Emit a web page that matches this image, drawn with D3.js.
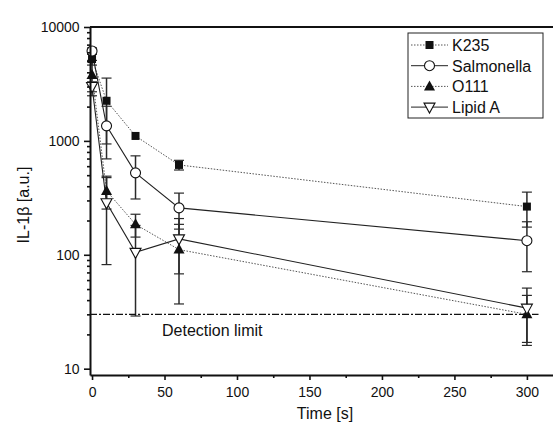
<!DOCTYPE html>
<html>
<head>
<meta charset="utf-8">
<script src="https://cdn.jsdelivr.net/npm/d3@7"></script>
<style>
  html, body { margin: 0; padding: 0; background: #fff; }
  svg { display: block; font-family: "Liberation Sans", Arial, sans-serif; }
</style>
</head>
<body>
<svg id="chart" width="553" height="425"></svg>
<script>
// Sampling times (s)
const times = [0, 10, 30, 60, 300];

// IL-1β signal per stimulus (a.u.) and standard deviations
const k235 = [5230, 2250, 1105, 615, 265];
const k235Err = [600, 1310, 0, 60, 90];

const salmonella = [6150, 1355, 524, 258, 133];
const salmonellaErr = [400, 660, 215, 90, 62];

const o111 = [3790, 364, 185, 111, 30];
const o111Err = [1300, 112, 42, 74, 14];

const lipidA = [3000, 286, 105, 138, 34];
const lipidAErr = [300, 204, 76, 70, 17];

const seriesNames = ["K235", "Salmonella", "O111", "Lipid A"];

const detectionLimit = 30;
const xTicks = [0, 50, 100, 150, 200, 250, 300];
const yTicks = [10, 100, 1000, 10000];

const series = [
  { name: seriesNames[0], values: k235, err: k235Err, symbol: "square", dotted: true },
  { name: seriesNames[1], values: salmonella, err: salmonellaErr, symbol: "circle", dotted: false },
  { name: seriesNames[2], values: o111, err: o111Err, symbol: "triUp", dotted: true },
  { name: seriesNames[3], values: lipidA, err: lipidAErr, symbol: "triDown", dotted: false }
];

const svg = d3.select("#chart");
const plotLeft = 90, plotRight = 553, plotTop = 27, plotBottom = 375;

const x = d3.scaleLinear().domain([-1.4, 318]).range([plotLeft, plotRight]);
const y = d3.scaleLog().domain([8.8, 10000]).range([plotBottom, plotTop]);

// Error bars
const errG = svg.append("g");
series.forEach(s => {
  s.values.forEach((v, i) => {
    const e = s.err[i];
    if (!e) return;
    const lo = Math.max(v - e, 9);
    const cx = x(times[i]);
    errG.append("line").attr("x1", cx).attr("x2", cx)
      .attr("y1", y(v + e)).attr("y2", y(lo))
      .attr("stroke", "#2a2a2a").attr("stroke-width", 1.5);
    [v + e, lo].forEach(c => {
      errG.append("line").attr("x1", cx - 5).attr("x2", cx + 5)
        .attr("y1", y(c)).attr("y2", y(c))
        .attr("stroke", "#2a2a2a").attr("stroke-width", 1.2);
    });
  });
});

// Detection limit
svg.append("line")
  .attr("x1", x(-1.4)).attr("x2", x(308))
  .attr("y1", y(detectionLimit)).attr("y2", y(detectionLimit))
  .attr("stroke", "#111").attr("stroke-width", 1.4)
  .attr("stroke-dasharray", "7,2,2,2");
svg.append("text").attr("x", 162).attr("y", y(detectionLimit) + 22)
  .attr("font-size", 16).attr("fill", "#111").text("Detection limit");

// Connecting lines
const line = d3.line().x((d, i) => x(times[i])).y(d => y(d));
series.forEach(s => {
  svg.append("path").datum(s.values)
    .attr("d", line)
    .attr("fill", "none")
    .attr("stroke", s.dotted ? "#555" : "#222")
    .attr("stroke-width", s.dotted ? 1 : 1.1)
    .attr("stroke-dasharray", s.dotted ? "1.5,1.5" : null);
});

// Markers
function drawSymbol(g, type, cx, cy) {
  if (type === "square") {
    g.append("rect").attr("x", cx - 4).attr("y", cy - 4).attr("width", 8).attr("height", 8).attr("fill", "#111");
  } else if (type === "circle") {
    g.append("circle").attr("cx", cx).attr("cy", cy).attr("r", 5)
      .attr("fill", "#fff").attr("stroke", "#111").attr("stroke-width", 1.1);
  } else if (type === "triUp") {
    g.append("path").attr("d", `M${cx},${cy - 6}L${cx + 5.5},${cy + 4}L${cx - 5.5},${cy + 4}Z`).attr("fill", "#111");
  } else {
    g.append("path").attr("d", `M${cx - 5.5},${cy - 4}L${cx + 5.5},${cy - 4}L${cx},${cy + 6}Z`)
      .attr("fill", "#fff").attr("stroke", "#111").attr("stroke-width", 1.1);
  }
}
const markG = svg.append("g");
series.forEach(s => {
  s.values.forEach((v, i) => drawSymbol(markG, s.symbol, x(times[i]), y(v)));
});

// Axes
const xAxis = svg.append("g").attr("transform", `translate(0,${plotBottom})`)
  .call(d3.axisBottom(x).tickValues(xTicks).tickFormat(d3.format("d")).tickSize(5).tickSizeOuter(0));
const xMinor = svg.append("g").attr("transform", `translate(0,${plotBottom})`)
  .call(d3.axisBottom(x).tickValues([25, 75, 125, 175, 225, 275]).tickFormat("").tickSize(3).tickSizeOuter(0));
xMinor.select(".domain").remove();

const minorVals = [];
[10, 100, 1000].forEach(b => { for (let k = 2; k <= 9; k++) minorVals.push(b * k); });
const yAxis = svg.append("g").attr("transform", `translate(${plotLeft},0)`)
  .call(d3.axisLeft(y).tickValues(yTicks).tickFormat(d3.format("d")).tickSize(6).tickSizeOuter(0));
const yMinor = svg.append("g").attr("transform", `translate(${plotLeft},0)`)
  .call(d3.axisLeft(y).tickValues(minorVals).tickFormat("").tickSize(3).tickSizeOuter(0));
yMinor.select(".domain").remove();

[xAxis, yAxis, xMinor, yMinor].forEach(g => {
  g.selectAll("line").attr("stroke", "#111").attr("stroke-width", 1.6);
  g.selectAll(".domain").attr("stroke", "#111").attr("stroke-width", 2);
  g.selectAll("text").attr("font-size", 14).attr("fill", "#111")
    .attr("font-family", "Liberation Sans, Arial, sans-serif");
});
xAxis.selectAll("text").attr("dy", "1.0em");
yAxis.selectAll("text").attr("dx", "-0.1em");

// Top frame line
svg.append("line").attr("x1", plotLeft).attr("x2", plotRight).attr("y1", plotTop).attr("y2", plotTop)
  .attr("stroke", "#111").attr("stroke-width", 2);

// Axis titles
svg.append("text").attr("x", 325).attr("y", 419).attr("text-anchor", "middle")
  .attr("font-size", 16).attr("fill", "#111").text("Time [s]");
svg.append("text").attr("transform", "translate(29,205) rotate(-90)")
  .attr("text-anchor", "middle").attr("font-size", 16).attr("fill", "#111").text("IL-1β [a.u.]");

// Legend
const lg = svg.append("g");
lg.append("rect").attr("x", 408).attr("y", 33).attr("width", 135).attr("height", 85)
  .attr("fill", "#fff").attr("stroke", "#222").attr("stroke-width", 1);
series.forEach((s, i) => {
  const ly = 45 + i * 20.7;
  lg.append("line").attr("x1", 411).attr("x2", 448).attr("y1", ly).attr("y2", ly)
    .attr("stroke", s.dotted ? "#555" : "#222").attr("stroke-width", 1)
    .attr("stroke-dasharray", s.dotted ? "1.5,1.5" : null);
  drawSymbol(lg, s.symbol, 429.5, ly);
  lg.append("text").attr("x", 452).attr("y", ly + 6).attr("font-size", 16)
    .attr("fill", "#111").text(s.name);
});
</script>
</body>
</html>
